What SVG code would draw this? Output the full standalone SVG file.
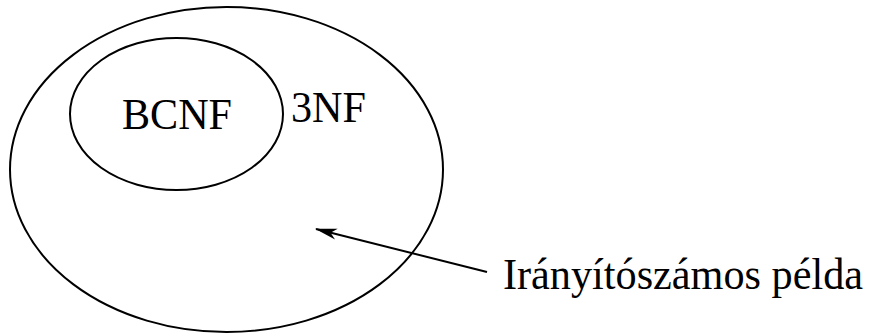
<svg xmlns="http://www.w3.org/2000/svg" width="871" height="334" viewBox="0 0 871 334">
<defs>
<style>
.sh{fill:none;stroke:#000;stroke-width:2}
.t{font-family:"Liberation Serif","Times New Roman",serif;font-size:44px;fill:#000}
.s42{font-size:42px}
</style>
<marker id="ah" markerWidth="22" markerHeight="12" refX="21" refY="6" orient="auto" markerUnits="userSpaceOnUse" viewBox="0 0 22 12">
<path d="M0,0.5 L22,6 L0,11.5 L6,6 Z" fill="#000"/>
</marker>
</defs>
<rect width="871" height="334" fill="#fff"/>
<g id="nf3">
<ellipse class="sh" cx="226.5" cy="169.5" rx="216.5" ry="162.5"/>
<text class="t" x="291" y="122" textLength="75" lengthAdjust="spacingAndGlyphs">3NF</text>
</g>
<g id="bcnf">
<ellipse class="sh" cx="176.5" cy="114" rx="106.5" ry="76"/>
<text class="t" x="122" y="129" textLength="110" lengthAdjust="spacingAndGlyphs">BCNF</text>
</g>
<g id="example">
<text class="t s42" transform="translate(503,289) scale(1,1.0476)" x="0" y="0" textLength="360" lengthAdjust="spacingAndGlyphs">Irányítószámos példa</text>
</g>
<g id="connectors">
<line class="sh" x1="487" y1="272" x2="316" y2="229" marker-end="url(#ah)"/>
</g>
</svg>
